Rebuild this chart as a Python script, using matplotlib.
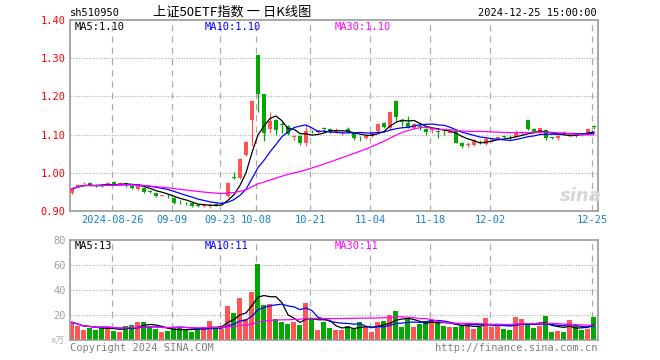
import matplotlib
matplotlib.use("Agg")
import matplotlib.pyplot as plt
import numpy as np
import pandas as pd

# daily OHLC (2024-08-15 .. 2024-12-25)
opens = [0.947, 0.963, 0.973, 0.973, 0.969, 0.967, 0.969, 0.976, 0.970, 0.972,
         0.966, 0.957, 0.961, 0.952, 0.946, 0.939, 0.942, 0.935, 0.924, 0.921,
         0.920, 0.914, 0.913, 0.913, 0.918, 0.920, 0.938, 0.988, 0.986, 1.047,
         1.138, 1.308, 1.205, 1.115, 1.137, 1.127, 1.122, 1.094, 1.096, 1.077,
         1.110, 1.108, 1.116, 1.115, 1.108, 1.106, 1.115, 1.104, 1.091, 1.090,
         1.096, 1.109, 1.130, 1.118, 1.189, 1.134, 1.131, 1.116, 1.123, 1.115,
         1.112, 1.110, 1.110, 1.105, 1.109, 1.078, 1.073, 1.074, 1.081, 1.076,
         1.085, 1.089, 1.095, 1.094, 1.095, 1.105, 1.137, 1.114, 1.108, 1.113,
         1.092, 1.091, 1.104, 1.100, 1.100, 1.101, 1.105, 1.121]
highs = [0.960, 0.970, 0.977, 0.975, 0.971, 0.969, 0.975, 0.978, 0.976, 0.974,
         0.967, 0.971, 0.962, 0.955, 0.947, 0.941, 0.945, 0.936, 0.929, 0.924,
         0.921, 0.918, 0.918, 0.920, 0.922, 0.925, 0.975, 1.001, 1.038, 1.083,
         1.190, 1.310, 1.207, 1.159, 1.140, 1.132, 1.126, 1.098, 1.098, 1.125,
         1.113, 1.113, 1.121, 1.117, 1.117, 1.110, 1.121, 1.106, 1.096, 1.098,
         1.110, 1.130, 1.134, 1.162, 1.191, 1.140, 1.150, 1.131, 1.128, 1.117,
         1.118, 1.112, 1.112, 1.112, 1.111, 1.080, 1.080, 1.088, 1.085, 1.095,
         1.092, 1.094, 1.097, 1.098, 1.112, 1.110, 1.139, 1.116, 1.118, 1.114,
         1.095, 1.098, 1.110, 1.104, 1.102, 1.104, 1.118, 1.125]
lows = [0.944, 0.962, 0.971, 0.966, 0.963, 0.964, 0.968, 0.969, 0.968, 0.963,
        0.958, 0.955, 0.948, 0.946, 0.936, 0.938, 0.934, 0.918, 0.918, 0.917,
        0.911, 0.910, 0.910, 0.908, 0.914, 0.917, 0.936, 0.983, 0.985, 1.043,
        1.070, 1.159, 1.082, 1.103, 1.098, 1.105, 1.098, 1.087, 1.072, 1.070,
        1.104, 1.105, 1.106, 1.104, 1.105, 1.100, 1.105, 1.087, 1.084, 1.088,
        1.094, 1.107, 1.118, 1.113, 1.135, 1.123, 1.118, 1.114, 1.113, 1.100,
        1.103, 1.092, 1.098, 1.103, 1.077, 1.064, 1.067, 1.070, 1.076, 1.074,
        1.080, 1.087, 1.090, 1.089, 1.094, 1.102, 1.112, 1.104, 1.102, 1.085,
        1.089, 1.085, 1.098, 1.098, 1.093, 1.097, 1.101, 1.115]
closes = [0.958, 0.968, 0.974, 0.968, 0.965, 0.966, 0.973, 0.971, 0.974, 0.971,
          0.960, 0.965, 0.950, 0.951, 0.940, 0.940, 0.941, 0.921, 0.923, 0.920,
          0.913, 0.913, 0.914, 0.915, 0.917, 0.921, 0.974, 0.987, 1.036, 1.080,
          1.188, 1.205, 1.103, 1.135, 1.113, 1.125, 1.102, 1.096, 1.077, 1.109,
          1.109, 1.111, 1.115, 1.107, 1.110, 1.107, 1.107, 1.092, 1.090, 1.096,
          1.105, 1.129, 1.121, 1.160, 1.146, 1.133, 1.118, 1.128, 1.121, 1.108,
          1.113, 1.107, 1.109, 1.110, 1.079, 1.071, 1.075, 1.086, 1.080, 1.088,
          1.087, 1.093, 1.094, 1.093, 1.104, 1.106, 1.114, 1.107, 1.117, 1.092,
          1.091, 1.096, 1.103, 1.102, 1.099, 1.100, 1.115, 1.120]
# volume in 万
volume = [14.2, 11.2, 8.0, 9.9, 8.0, 10.4, 10.4, 7.2, 6.4, 11.2,
          11.8, 14.5, 14.5, 10.2, 8.8, 6.4, 7.2, 9.9, 9.4, 8.6,
          6.4, 9.9, 10.2, 15.3, 9.1, 8.8, 27.3, 21.7, 33.7, 16.6,
          38.5, 61.0, 28.1, 28.9, 16.6, 14.5, 12.8, 14.5, 12.0, 29.7,
          16.9, 8.0, 14.5, 9.6, 8.0, 8.0, 11.2, 8.8, 14.5, 10.4,
          6.4, 14.5, 15.3, 20.1, 23.3, 10.4, 17.7, 10.4, 12.8, 15.3,
          16.1, 14.5, 11.2, 10.4, 10.4, 11.5, 13.7, 8.8, 10.4, 17.7,
          10.4, 12.8, 8.8, 8.0, 18.5, 16.9, 11.8, 9.6, 11.2, 19.3,
          6.4, 7.2, 6.4, 16.1, 11.2, 8.0, 8.8, 18.5]

tick_idx = [7, 17, 25, 31, 40, 50, 60, 70, 87]
tick_labels = ['2024-08-26', '09-09', '09-23', '10-08', '10-21',
               '11-04', '11-18', '12-02', '12-25']
price_ticks = [0.90, 1.00, 1.10, 1.20, 1.30, 1.40]
vol_ticks = [20, 40, 60, 80]

RED = '#ff5555'
GREEN = '#00a800'
GRIDC = '#aaaaaa'
MONO = 'DejaVu Sans Mono'

o = np.array(opens); h = np.array(highs); l = np.array(lows); c = np.array(closes)
v = np.array(volume)
x = np.arange(len(c))
up = c >= o
cols = np.where(up, RED, GREEN)

cs = pd.Series(c)
vs = pd.Series(v)
ma = {n: cs.rolling(n, min_periods=1).mean() for n in (5, 10, 30)}
vma = {n: vs.rolling(n, min_periods=1).mean() for n in (5, 10, 30)}
ma_col = {5: 'black', 10: '#0000ff', 30: '#ff00ff'}

W, H = 660, 360
fig = plt.figure(figsize=(6.6, 3.6), dpi=100)
fig.patch.set_facecolor('white')

def box(l_, t_, r_, b_):
    return [l_ / W, 1 - b_ / H, (r_ - l_) / W, (b_ - t_) / H]

ax = fig.add_axes(box(70, 20, 598, 211))
axv = fig.add_axes(box(70, 240, 598, 340))
xlim = (-0.33, len(c) - 0.33)

# price panel
for yv in price_ticks[1:-1]:
    ax.axhline(yv, color=GRIDC, lw=0.8, ls=(0, (1, 1.5)), zorder=0)
for t in tick_idx:
    ax.axvline(t - 0.3, color=GRIDC, lw=0.9, ls=(0, (5, 4)), zorder=0)
    axv.axvline(t - 0.3, color=GRIDC, lw=0.9, ls=(0, (5, 4)), zorder=0)

ax.vlines(x, l, h, colors=cols, lw=0.9, zorder=2)
body = np.maximum(np.abs(c - o), 0.0016)
ax.bar(x, body, bottom=np.minimum(o, c), width=0.8, color=cols, zorder=3)
for n in (5, 10, 30):
    ax.plot(x, ma[n], color=ma_col[n], lw=0.9, zorder=4)

ax.set_xlim(*xlim)
ax.set_ylim(0.90, 1.40)
ax.set_yticks(price_ticks)
ax.set_yticklabels(['%.2f' % p for p in price_ticks], color='red',
                   family=MONO, fontsize=7.5)
ax.set_xticks([t - 0.3 for t in tick_idx])
ax.set_xticklabels(tick_labels, color='#1a7fd0', family=MONO, fontsize=7.5)
ax.tick_params(length=0, pad=3)

# volume panel
for yv in vol_ticks[:-1]:
    axv.axhline(yv, color=GRIDC, lw=0.8, ls=(0, (1, 1.5)), zorder=0)
axv.bar(x, v, width=0.83, color=cols, zorder=2)
for n in (5, 10, 30):
    axv.plot(x, vma[n], color=ma_col[n], lw=0.9, zorder=3)
axv.set_xlim(*xlim)
axv.set_ylim(0, 80)
axv.set_yticks(vol_ticks)
axv.set_yticklabels([str(t) for t in vol_ticks], color='#a0a0a0',
                    family=MONO, fontsize=7.5)
axv.set_xticks([])
axv.tick_params(length=0, pad=3)

for a in (ax, axv):
    for s in a.spines.values():
        s.set_color('#999999')
        s.set_linewidth(1.2)

def ftext(px, py, s, **kw):
    fig.text(px / W, 1 - py / H, s, va='center', **kw)

ftext(70, 13, 'sh510950', family=MONO, fontsize=7.5, color='black')
ftext(232, 12, '上证50ETF指数 一 日K线图', ha='center',
      family=['Noto Sans CJK SC', 'DejaVu Sans'], fontsize=9.5, color='black')
ftext(597, 13, '2024-12-25 15:00:00', ha='right', family=MONO,
      fontsize=7.5, color='black')

ftext(75, 27, 'MA5:1.10', family=MONO, fontsize=7.5, color='black')
ftext(205, 27, 'MA10:1.10', family=MONO, fontsize=7.5, color='#0000ff')
ftext(335, 27, 'MA30:1.10', family=MONO, fontsize=7.5, color='#ff00ff')
ftext(75, 246, 'MA5:13', family=MONO, fontsize=7.5, color='black')
ftext(205, 246, 'MA10:11', family=MONO, fontsize=7.5, color='#0000ff')
ftext(335, 246, 'MA30:11', family=MONO, fontsize=7.5, color='#ff00ff')

ftext(65, 341, 'x万', ha='right', family=['DejaVu Sans', 'Noto Sans CJK SC'],
      fontsize=6.5, color='#b0b0b0')
ftext(70, 348, 'Copyright 2024 SINA.COM', family=MONO, fontsize=7.5,
      color='#808080')
ftext(597, 348, 'http://finance.sina.com.cn', ha='right', family=MONO,
      fontsize=7.5, color='#808080')

# sina watermark
ftext(581, 196, 'sina', ha='center', fontsize=13, fontweight='bold',
      style='italic', color='#d6d6d6')

fig.savefig('out.png', dpi=100, facecolor='white')
